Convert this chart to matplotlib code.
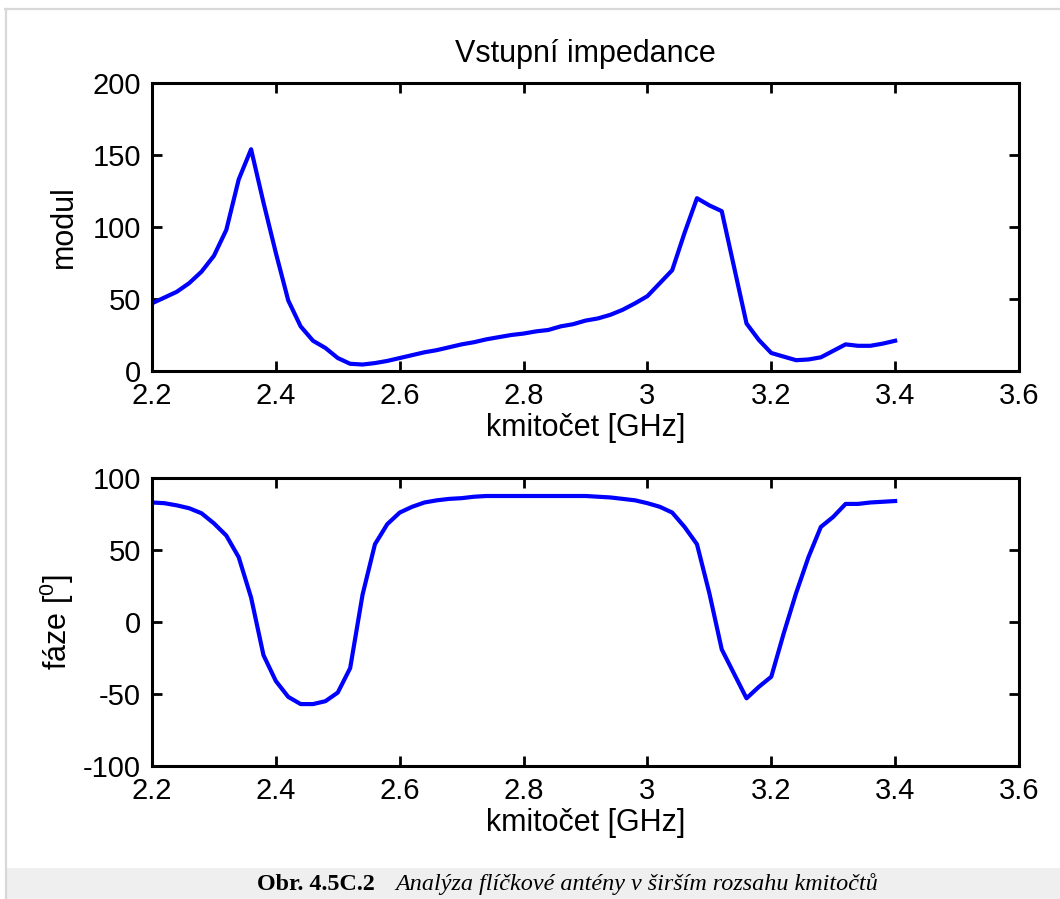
"""Input impedance of a patch antenna over a wider frequency range."""

import matplotlib
import numpy as np

matplotlib.use("Agg")
import matplotlib.pyplot as plt
from matplotlib.lines import Line2D
from matplotlib.patches import Rectangle

plt.rcParams["font.family"] = ["Liberation Sans", "DejaVu Sans"]
plt.rcParams["mathtext.fontset"] = "custom"
plt.rcParams["mathtext.rm"] = "Liberation Sans"
plt.rcParams["axes.unicode_minus"] = False

# frequency grid [GHz]
freq = [2.20, 2.22, 2.24, 2.26, 2.28, 2.30, 2.32, 2.34, 2.36, 2.38,
        2.40, 2.42, 2.44, 2.46, 2.48, 2.50, 2.52, 2.54, 2.56, 2.58,
        2.60, 2.62, 2.64, 2.66, 2.68, 2.70, 2.72, 2.74, 2.76, 2.78,
        2.80, 2.82, 2.84, 2.86, 2.88, 2.90, 2.92, 2.94, 2.96, 2.98,
        3.00, 3.02, 3.04, 3.06, 3.08, 3.10, 3.12, 3.14, 3.16, 3.18,
        3.20, 3.22, 3.24, 3.26, 3.28, 3.30, 3.32, 3.34, 3.36, 3.38,
        3.40]

modul = [47, 51, 55, 61, 69, 80, 98, 133, 154, 117,
         82, 49, 31, 21, 16, 9, 5, 4.5, 5.5, 7,
         9, 11, 13, 14.5, 16.5, 18.5, 20, 22, 23.5, 25,
         26, 27.5, 28.5, 31, 32.5, 35, 36.5, 39, 42.5, 47,
         52, 61, 70, 96, 120, 115, 111, 72, 33, 21.5,
         12.5, 10, 7.5, 8, 9.5, 14, 18.5, 17.5, 17.5, 19,
         21]

faze = [83, 82.5, 81, 79, 75.5, 68.5, 60, 45, 17, -23,
        -41, -52, -57, -57, -55, -49, -32, 19, 54, 68,
        76, 80, 83, 84.5, 85.5, 86, 87, 87.5, 87.5, 87.5,
        87.5, 87.5, 87.5, 87.5, 87.5, 87.5, 87, 86.5, 85.5, 84.5,
        82.5, 80, 76, 66, 54, 20, -19, -36, -53, -45,
        -38, -8, 20, 45, 66, 73, 82, 82, 83, 83.5,
        84]

x_ticks = [2.2, 2.4, 2.6, 2.8, 3.0, 3.2, 3.4, 3.6]
x_ticklabels = ["2.2", "2.4", "2.6", "2.8", "3", "3.2", "3.4", "3.6"]
modul_ticks = [0, 50, 100, 150, 200]
faze_ticks = [-100, -50, 0, 50, 100]

W, H = 1060, 899
fig = plt.figure(figsize=(W / 100, H / 100), dpi=100)
fig.patch.set_facecolor("white")

# page frame and caption strip
fig.add_artist(Line2D([5 / W, 1], [1 - 9 / H, 1 - 9 / H], color="#d8d8d8", lw=1.6))
fig.add_artist(Line2D([6 / W, 6 / W], [0, 1 - 9 / H], color="#d8d8d8", lw=1.6))
fig.add_artist(Rectangle((7 / W, 0), 1 - 7 / W, 31 / H, color="#efefef", lw=0))
fig.text(257 / W, 9 / H, "Obr. 4.5C.2", family="Liberation Serif", weight="bold",
         fontsize=17.4, ha="left", va="baseline")
fig.text(395 / W, 9 / H, "Analýza flíčkové antény v širším rozsahu kmitočtů",
         family="Liberation Serif", style="italic", fontsize=17.4, ha="left", va="baseline")

left, width, height = 152 / W, 867 / W, 288 / H
ax1 = fig.add_axes([left, 1 - 371 / H, width, height])
ax2 = fig.add_axes([left, 1 - 766 / H, width, height])

fs = 21
for ax, y, yt in ((ax1, modul, modul_ticks), (ax2, faze, faze_ticks)):
    ax.plot(freq, y, color="#0000ff", lw=3.0, solid_joinstyle="round")
    ax.set_xlim(2.2, 3.6)
    ax.set_ylim(yt[0], yt[-1])
    ax.set_xticks(x_ticks)
    ax.set_xticklabels(x_ticklabels)
    ax.set_yticks(yt)
    ax.tick_params(direction="in", length=7, width=2, top=True, right=True,
                   labelsize=fs, colors="black", pad=8)
    for sp in ax.spines.values():
        sp.set_linewidth(2.2)
    ax.set_xlabel("kmitočet [GHz]", fontsize=22, labelpad=2)

ax1.set_title("Vstupní impedance", fontsize=22, pad=15)
ax1.set_ylabel("modul", fontsize=22, labelpad=10)
ax2.set_ylabel(r"fáze [$^\mathrm{0}$]", fontsize=22, labelpad=5)

fig.savefig("out.png", dpi=100)
plt.close(fig)
